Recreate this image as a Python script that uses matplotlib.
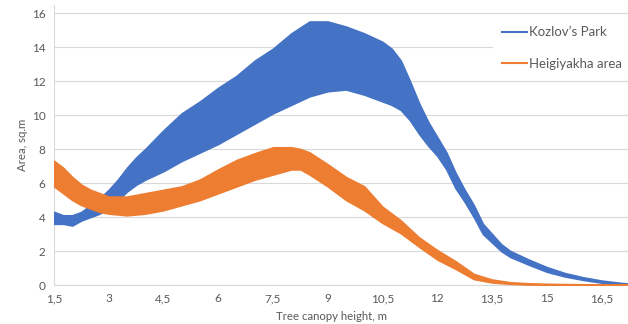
import matplotlib
matplotlib.use("Agg")
import matplotlib.pyplot as plt
from matplotlib.lines import Line2D

# ---- data ----
series_names = ["Kozlov\u2019s Park", "Heigiyakha area"]

kozlov_x = [1.5, 1.75, 2.0, 2.25, 2.5, 2.75, 3.0, 3.25, 3.5, 3.75, 4.0, 4.5, 5.0, 5.5,
            6.0, 6.5, 7.0, 7.5, 8.0, 8.5, 9.0, 9.5, 10.0, 10.5, 10.75, 11.0, 11.25,
            11.5, 11.75, 12.0, 12.25, 12.5, 12.75, 13.0, 13.25, 13.5, 13.75, 14.0,
            14.5, 15.0, 15.5, 16.0, 16.5, 17.0, 17.25]
kozlov_low = [3.6, 3.6, 3.5, 3.8, 4.0, 4.2, 4.5, 5.0, 5.5, 5.9, 6.2, 6.7, 7.3, 7.8,
              8.3, 8.9, 9.5, 10.1, 10.6, 11.1, 11.4, 11.5, 11.2, 10.8, 10.6, 10.3, 9.7,
              8.9, 8.2, 7.6, 6.8, 5.7, 4.9, 4.0, 3.0, 2.5, 2.0, 1.65,
              1.2, 0.78, 0.5, 0.3, 0.14, 0.05, 0.02]
kozlov_high = [4.3, 4.1, 4.1, 4.3, 4.7, 5.1, 5.6, 6.2, 6.9, 7.5, 8.0, 9.1, 10.1, 10.8,
               11.6, 12.3, 13.2, 13.9, 14.8, 15.5, 15.5, 15.2, 14.8, 14.3, 13.9, 13.2, 12.0,
               10.7, 9.6, 8.7, 7.8, 6.6, 5.6, 4.7, 3.6, 3.0, 2.4, 2.0,
               1.5, 1.05, 0.7, 0.45, 0.26, 0.13, 0.08]

heig_x = [1.5, 1.75, 2.0, 2.25, 2.5, 2.75, 3.0, 3.5, 4.0, 4.5, 5.0, 5.5, 6.0, 6.5,
          7.0, 7.5, 8.0, 8.25, 8.5, 9.0, 9.5, 10.0, 10.5, 11.0, 11.5, 12.0, 12.5,
          13.0, 13.5, 14.0, 14.5, 15.0, 16.0, 17.25]
heig_low = [5.8, 5.4, 5.0, 4.7, 4.5, 4.3, 4.2, 4.1, 4.2, 4.4, 4.7, 5.0, 5.4, 5.8,
            6.2, 6.5, 6.8, 6.8, 6.5, 5.8, 5.0, 4.4, 3.65, 3.05, 2.25, 1.5, 0.95,
            0.35, 0.15, 0.07, 0.03, 0.02, 0.01, 0.0]
heig_high = [7.3, 6.9, 6.35, 5.9, 5.6, 5.4, 5.2, 5.2, 5.4, 5.6, 5.8, 6.2, 6.8, 7.35,
             7.75, 8.1, 8.1, 8.0, 7.8, 7.1, 6.35, 5.8, 4.6, 3.8, 2.8, 2.05, 1.4,
             0.65, 0.32, 0.16, 0.1, 0.07, 0.04, 0.02]

x_ticks = [1.5, 3, 4.5, 6, 7.5, 9, 10.5, 12, 13.5, 15, 16.5]
x_tick_labels = ["1,5", "3", "4,5", "6", "7,5", "9", "10,5", "12", "13,5", "15", "16,5"]
y_ticks = [0, 2, 4, 6, 8, 10, 12, 14, 16]

# ---- style ----
BLUE = "#4472C4"
ORANGE = "#ED7D31"
GRID = "#D9D9D9"
TXT = "#595959"
plt.rcParams['font.family'] = ['Lato', 'DejaVu Sans']

W, H = 628, 324
fig = plt.figure(figsize=(W / 100, H / 100), dpi=100)
ax = fig.add_axes([54 / W, (H - 285) / H, (W - 54) / W, 280 / H])

ax.fill_between(kozlov_x, kozlov_low, kozlov_high, color=BLUE, lw=1.2, zorder=3)
ax.fill_between(heig_x, heig_low, heig_high, color=ORANGE, lw=1.2, zorder=4)

ax.set_xlim(1.5, 1.5 + 574 / 36.5)
ax.set_ylim(0, 280 / 17)
ax.set_xticks(x_ticks)
ax.set_xticklabels(x_tick_labels)
ax.set_yticks(y_ticks)
ax.tick_params(length=0, labelsize=8.5, colors=TXT, pad=6)
ax.grid(axis='y', color=GRID, lw=0.8, zorder=0)
ax.set_axisbelow(True)
for s in ['top', 'right']:
    ax.spines[s].set_visible(False)
for s in ['left', 'bottom']:
    ax.spines[s].set_color(GRID)
    ax.spines[s].set_linewidth(0.8)

fig.text(332 / W, 1 - 317 / H, "Tree canopy height, m", ha='center', va='center',
         fontsize=8.2, color=TXT)
fig.text(22 / W, 1 - 145 / H, "Area, sq.m", ha='center', va='center',
         rotation=90, fontsize=8.2, color=TXT)

handles = [Line2D([], [], color=BLUE, lw=1.5), Line2D([], [], color=ORANGE, lw=1.5)]
leg = ax.legend(handles, series_names, loc='upper left',
                bbox_to_anchor=(493 / W, 1 - 17 / H), bbox_transform=fig.transFigure,
                frameon=True, fontsize=9.5, handlelength=1.9, handletextpad=0.15,
                labelspacing=1.5, borderpad=0.7, borderaxespad=0)
leg.get_frame().set_facecolor('white')
leg.get_frame().set_edgecolor('none')
leg.get_frame().set_alpha(1)
for t in leg.get_texts():
    t.set_color(TXT)
leg.set_zorder(6)

fig.savefig("out.png", dpi=100)
